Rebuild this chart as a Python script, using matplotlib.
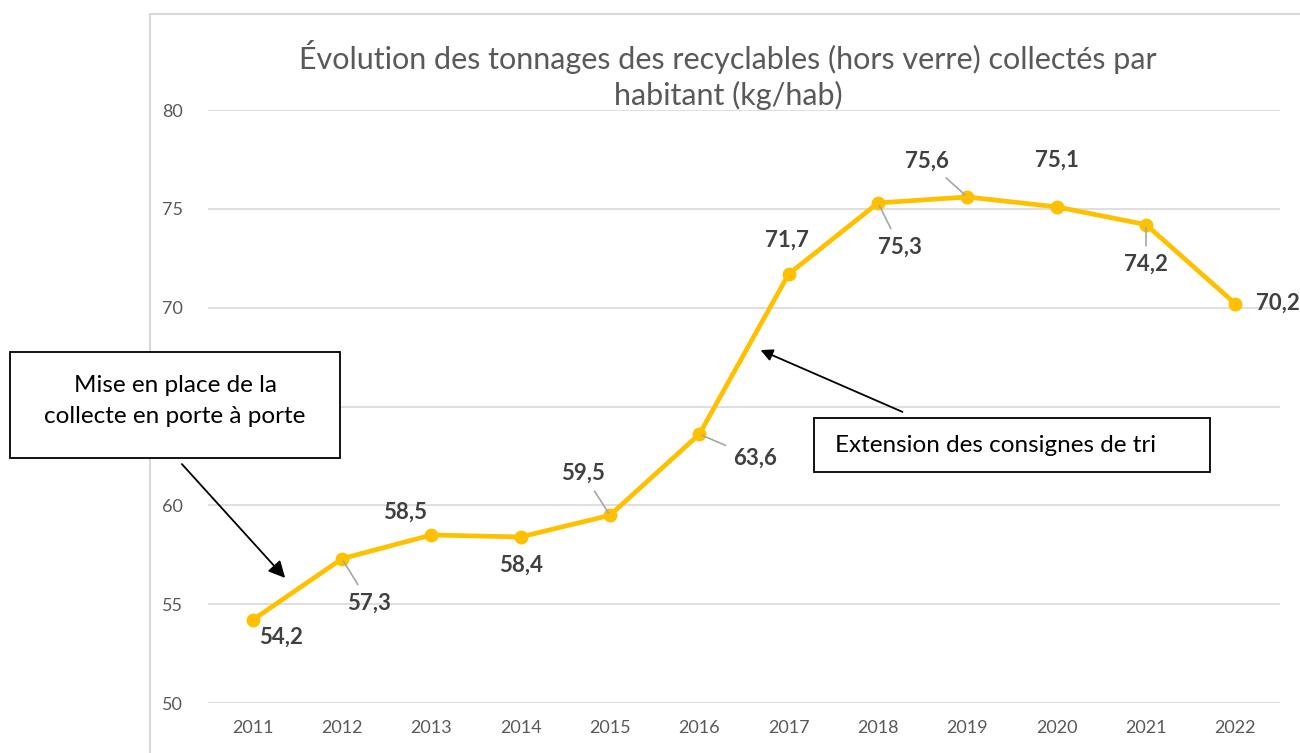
import matplotlib.pyplot as plt
from matplotlib.patches import Rectangle

years = ['2011', '2012', '2013', '2014', '2015', '2016', '2017', '2018', '2019', '2020', '2021', '2022']
values = [54.2, 57.3, 58.5, 58.4, 59.5, 63.6, 71.7, 75.3, 75.6, 75.1, 74.2, 70.2]
labels = ['54,2', '57,3', '58,5', '58,4', '59,5', '63,6', '71,7', '75,3', '75,6', '75,1', '74,2', '70,2']
yticks = [50, 55, 60, 65, 70, 75, 80]
ytick_labels = ['50', '55', '60', '', '70', '75', '80']  # 65 is hidden behind the text box
# label offsets (pixels) and whether Excel drew a leader line
offsets = [(28, -17), (27, -44), (-26, 23), (0, -28), (-27, 42), (56, -24),
           (-2, 34), (22, -44), (-40, 36), (0, 47), (0, -40), (43, 1)]
leaders = [False, True, False, False, True, True, False, True, True, False, True, False]

plt.rcParams['font.family'] = ['Lato', 'DejaVu Sans']

W, H = 1300, 753
fig = plt.figure(figsize=(13, 7.53), dpi=100)

# chart frame
fig.patches.append(Rectangle((150 / W, -0.1), 1.0, 1 - 14 / H + 0.1, transform=fig.transFigure,
                             fill=False, edgecolor='#d9d9d9', linewidth=1.5))

ax = fig.add_axes([208 / W, 1 - 703 / H, 1072 / W, 593 / H])
x = range(len(years))
ax.plot(x, values, color='#FFC000', linewidth=3.4, marker='o', markersize=9, zorder=3)

for i, (v, lab) in enumerate(zip(values, labels)):
    dx, dy = offsets[i]
    kw = {}
    if leaders[i]:
        kw['arrowprops'] = dict(arrowstyle='-', color='#a6a6a6', lw=1.2, shrinkA=4, shrinkB=2)
    ax.annotate(lab, (i, v), xytext=(dx, dy), textcoords='offset pixels',
                ha='center', va='center', fontsize=16, fontweight='bold', color='#404040', **kw)

ax.set_xlim(-0.5, 11.5)
ax.set_ylim(50, 80)
ax.set_yticks(yticks)
ax.set_yticklabels(ytick_labels)
ax.set_xticks(list(x))
ax.set_xticklabels(years)
ax.grid(axis='y', color='#d9d9d9', linewidth=1.2)
ax.set_axisbelow(True)
for s in ax.spines.values():
    s.set_visible(False)
ax.tick_params(length=0, labelsize=13, colors='#595959')
ax.tick_params(axis='x', pad=12)
ax.tick_params(axis='y', pad=18)

fig.text(728 / W, 1 - 75 / H, 'Évolution des tonnages des recyclables (hors verre) collectés par\nhabitant (kg/hab)',
         ha='center', va='center', fontsize=22, color='#595959', linespacing=1.3)

# annotation boxes
fig.patches.append(Rectangle((10 / W, 1 - 458 / H), 330 / W, 106 / H, transform=fig.transFigure,
                             facecolor='white', edgecolor='black', linewidth=1.3, zorder=5))
fig.text(175 / W, 1 - 401 / H, 'Mise en place de la\ncollecte en porte à porte', ha='center', va='center',
         fontsize=17.5, color='black', linespacing=1.6, zorder=6)
fig.patches.append(Rectangle((814 / W, 1 - 472 / H), 396 / W, 54 / H, transform=fig.transFigure,
                             facecolor='white', edgecolor='black', linewidth=1.3, zorder=5))
fig.text(835 / W, 1 - 446 / H, 'Extension des consignes de tri', ha='left', va='center',
         fontsize=17.5, color='black', zorder=6)

fig.add_artist(plt.Annotation('', xy=(287 / W, 1 - 580 / H), xytext=(180 / W, 1 - 462 / H),
                              xycoords='figure fraction', textcoords='figure fraction',
                              arrowprops=dict(arrowstyle='-|>', color='black', lw=1.3, mutation_scale=25)))
fig.add_artist(plt.Annotation('', xy=(758 / W, 1 - 349 / H), xytext=(905 / W, 1 - 413 / H),
                              xycoords='figure fraction', textcoords='figure fraction',
                              arrowprops=dict(arrowstyle='-|>', color='black', lw=1.3, mutation_scale=18)))

fig.savefig('out.png', dpi=100)
